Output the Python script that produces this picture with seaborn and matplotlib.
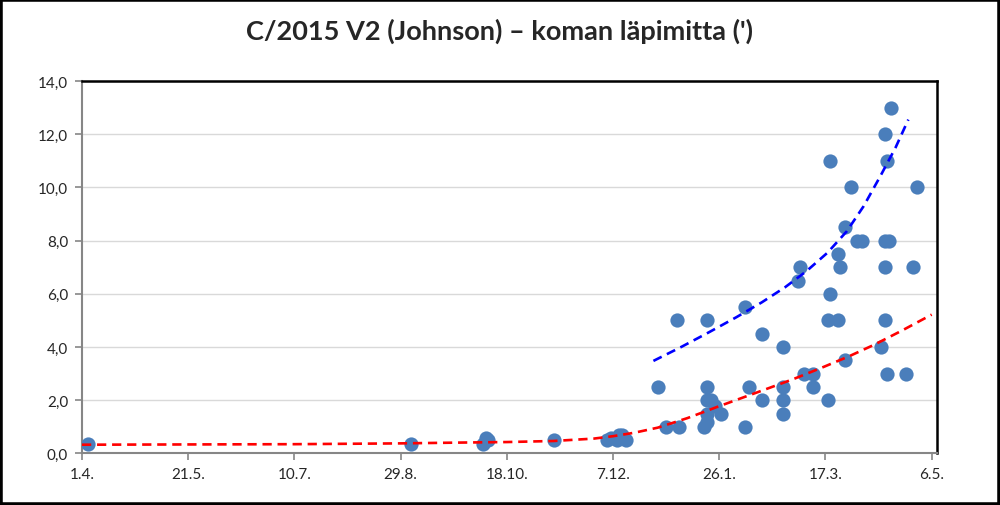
import pandas as pd
import seaborn as sns
import matplotlib.pyplot as plt
import matplotlib.dates as mdates
from matplotlib.ticker import FuncFormatter
from matplotlib.patches import Rectangle

# Havainnot: päivämäärä ja koman läpimitta (')
obs_dates = ["2016-04-04", "2016-09-03", "2016-10-07", "2016-10-08", "2016-10-09",
             "2016-11-09", "2016-12-04", "2016-12-06", "2016-12-09", "2016-12-10",
             "2016-12-11", "2016-12-13", "2016-12-28", "2017-01-01", "2017-01-06",
             "2017-01-07", "2017-01-19", "2017-01-20", "2017-01-20", "2017-01-20",
             "2017-01-20", "2017-01-20", "2017-01-22", "2017-01-24", "2017-01-27",
             "2017-02-07", "2017-02-07", "2017-02-09", "2017-02-15", "2017-02-15",
             "2017-02-25", "2017-02-25", "2017-02-25", "2017-02-25", "2017-03-04",
             "2017-03-05", "2017-03-07", "2017-03-11", "2017-03-11", "2017-03-18",
             "2017-03-18", "2017-03-19", "2017-03-19", "2017-03-23", "2017-03-23",
             "2017-03-24", "2017-03-26", "2017-03-26", "2017-03-29", "2017-04-01",
             "2017-04-03", "2017-04-12", "2017-04-14", "2017-04-14", "2017-04-14",
             "2017-04-14", "2017-04-15", "2017-04-15", "2017-04-16", "2017-04-17",
             "2017-04-24", "2017-04-27", "2017-04-29"]
obs_coma = [0.35, 0.35, 0.35, 0.6, 0.5,
            0.5, 0.5, 0.6, 0.5, 0.7,
            0.7, 0.5, 2.5, 1.0, 5.0,
            1.0, 1.0, 5.0, 1.2, 1.5,
            2.0, 2.5, 2.0, 1.8, 1.5,
            5.5, 1.0, 2.5, 2.0, 4.5,
            4.0, 2.5, 2.0, 1.5, 6.5,
            7.0, 3.0, 2.5, 3.0, 2.0,
            5.0, 6.0, 11.0, 5.0, 7.5,
            7.0, 8.5, 3.5, 10.0, 8.0,
            8.0, 4.0, 5.0, 7.0, 8.0,
            12.0, 3.0, 11.0, 8.0, 13.0,
            3.0, 7.0, 10.0]

# Trendiviivat (luettu kuvasta)
red_trend_dates = ["2016-04-01", "2016-05-21", "2016-07-10", "2016-08-29", "2016-09-26",
                   "2016-10-18", "2016-11-09", "2016-11-28", "2016-12-07", "2016-12-17",
                   "2016-12-28", "2017-01-11", "2017-01-25", "2017-02-15", "2017-03-02",
                   "2017-03-16", "2017-03-28", "2017-04-09", "2017-04-22", "2017-05-06"]
red_trend_values = [0.33, 0.34, 0.35, 0.38, 0.41,
                    0.43, 0.47, 0.56, 0.65, 0.78,
                    0.97, 1.33, 1.75, 2.36, 2.80,
                    3.25, 3.65, 4.09, 4.62, 5.22]
blue_trend_dates = ["2016-12-26", "2017-01-08", "2017-01-21", "2017-02-03", "2017-02-15",
                    "2017-02-26", "2017-03-08", "2017-03-18", "2017-03-27", "2017-04-04",
                    "2017-04-12", "2017-04-19", "2017-04-25"]
blue_trend_values = [3.48, 4.0, 4.55, 5.12, 5.68,
                     6.25, 6.85, 7.55, 8.35, 9.3,
                     10.45, 11.5, 12.55]

x_ticks = ["2016-04-01", "2016-05-21", "2016-07-10", "2016-08-29", "2016-10-18",
           "2016-12-07", "2017-01-26", "2017-03-17", "2017-05-06"]
y_ticks = [0, 2, 4, 6, 8, 10, 12, 14]

sns.set_style("white")
plt.rcParams['font.family'] = ['Lato', 'DejaVu Sans']

fig = plt.figure(figsize=(10, 5.06), dpi=100)
ax = fig.add_axes([0.082, 0.1018, 0.855, 0.7361])

sns.scatterplot(x=pd.to_datetime(obs_dates), y=obs_coma, color="#4A7EBB", s=105,
                linewidth=0, ax=ax, zorder=3)
sns.lineplot(x=pd.to_datetime(red_trend_dates), y=red_trend_values, color="#FF0000",
             lw=1.9, linestyle=(0, (3.5, 2.2)), ax=ax, zorder=4)
sns.lineplot(x=pd.to_datetime(blue_trend_dates), y=blue_trend_values, color="#0000FF",
             lw=1.9, linestyle=(0, (3.5, 2.2)), ax=ax, zorder=4)

x0 = pd.Timestamp("2016-04-01")
ax.set_xlim(x0, x0 + pd.Timedelta(days=402.5))
ax.set_ylim(0, 14)
ax.set_xticks(pd.to_datetime(x_ticks))
ax.set_yticks(y_ticks)


def date_fmt(v, pos):
    d = mdates.num2date(v)
    return f"{d.day}.{d.month}."


ax.xaxis.set_major_formatter(FuncFormatter(date_fmt))
ax.yaxis.set_major_formatter(FuncFormatter(lambda v, p: f"{v:.1f}".replace(".", ",")))

ax.yaxis.grid(True, color="#D9D9D9", lw=1.0)
ax.xaxis.grid(False)
ax.set_axisbelow(True)

for s in ["left", "bottom"]:
    ax.spines[s].set_color("#868686")
    ax.spines[s].set_linewidth(1.5)
for s in ["top", "right"]:
    ax.spines[s].set_color("black")
    ax.spines[s].set_linewidth(1.8)

ax.tick_params(axis="x", direction="out", length=5, width=1.2, color="#868686",
               labelsize=11, pad=5, bottom=True)
ax.tick_params(axis="y", direction="out", length=5, width=1.2, color="#868686",
               labelsize=11, pad=5, left=True)
ax.set_xlabel("")
ax.set_ylabel("")

fig.text(0.5, 1 - 39.3 / 506, "C/2015 V2 (Johnson) – koman läpimitta (')",
         ha="center", va="baseline", fontsize=19.5, fontweight="bold")

fig.add_artist(Rectangle((0, 0), 1, 1, transform=fig.transFigure, fill=False,
                         edgecolor="black", lw=4))

fig.savefig("out.png", dpi=100)
